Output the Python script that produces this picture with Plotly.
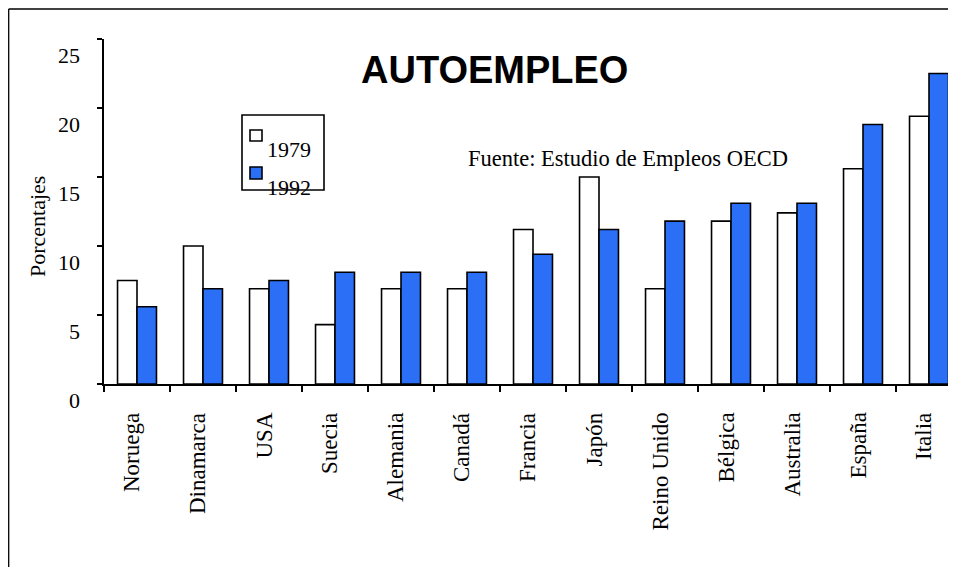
import plotly.graph_objects as go

categories = ["Noruega", "Dinamarca", "USA", "Suecia", "Alemania", "Canadá", "Francia",
              "Japón", "Reino Unido", "Bélgica", "Australia", "España", "Italia"]
v1979 = [7.5, 10.0, 6.9, 4.3, 6.9, 6.9, 11.2, 15.0, 6.9, 11.8, 12.4, 15.6, 19.4]
v1992 = [5.6, 6.9, 7.5, 8.1, 8.1, 8.1, 9.4, 11.2, 11.8, 13.1, 13.1, 18.8, 22.5]
ytick_vals = [0, 5, 10, 15, 20, 25]
ytick_text = ["0", "5", "10", "15", "20", "25"]
series_names = ["1979", "1992"]

# page body margin offset (screen px -> figure px)
OFF = 8
SW, SH = 956, 567
W, H = SW - OFF, SH - OFF
ML, MR, MT = 104 - OFF, 0, 39 - OFF
MB = H - (384 - OFF)
PW = W - ML - MR
PH = H - MT - MB


def px_x(p):
    # p: screen x position
    return (p - OFF - ML) / PW


def px_y(p):
    # p: screen y position
    return (H - MB - (p - OFF)) / PH


BLUE = "#2B6FF7"
SERIF = "Liberation Serif, Times New Roman, serif"
SANS = "Liberation Sans, Arial, sans-serif"

fig = go.Figure()
fig.add_trace(go.Bar(x=categories, y=v1979, name=series_names[0],
                     marker=dict(color="white", line=dict(color="black", width=1.6))))
fig.add_trace(go.Bar(x=categories, y=v1992, name=series_names[1],
                     marker=dict(color=BLUE, line=dict(color="black", width=1.6))))

n = len(categories)
xr = [-0.5, -0.5 + PW / 66.0]

fig.update_layout(
    width=W, height=H,
    margin=dict(l=ML, r=MR, t=MT, b=MB, pad=0),
    paper_bgcolor="white", plot_bgcolor="white",
    showlegend=False,
    barmode="group", bargap=0.41, bargroupgap=0,
    font=dict(family=SERIF, size=22, color="black"),
    xaxis=dict(type="category", range=xr, tickson="boundaries",
               ticks="outside", ticklen=6, tickwidth=1.5, tickcolor="black",
               showline=True, linewidth=2, linecolor="black",
               showgrid=False, zeroline=False, showticklabels=False),
    yaxis=dict(range=[0, 25], tickvals=ytick_vals, showticklabels=False,
               ticks="outside", ticklen=5, tickwidth=1.5, tickcolor="black",
               showline=True, linewidth=2, linecolor="black",
               showgrid=False, zeroline=False),
    xaxis2=dict(overlaying="x", anchor="y", range=xr,
                tickvals=[i - 0.5 for i in range(n + 1)],
                ticks="inside", ticklen=5, tickwidth=1.5, tickcolor="black",
                showticklabels=False, showline=False, showgrid=False, zeroline=False),
    yaxis2=dict(overlaying="y", anchor="x", side="left", range=[0, 25],
                tickvals=ytick_vals,
                ticks="inside", ticklen=6, tickwidth=1.5, tickcolor="black",
                showticklabels=False, showline=False, showgrid=False, zeroline=False),
)

annotations = []
# category labels (rotated), ends aligned below the axis
for c in categories:
    annotations.append(dict(text=c, xref="x", x=c, yref="paper", y=0,
                            xanchor="center", yanchor="top", textangle=-90,
                            xshift=-5.5, yshift=-27, showarrow=False,
                            font=dict(family=SERIF, size=23)))
for v, t in zip(ytick_vals, ytick_text):
    annotations.append(dict(text=t, xref="paper", yref="y", x=0, y=v,
                            xanchor="right", yanchor="middle", xshift=-22, yshift=-16,
                            showarrow=False, font=dict(family=SERIF, size=22)))
annotations.append(dict(text="Porcentajes", xref="paper", yref="paper",
                        x=px_x(37), y=px_y(227), textangle=-90,
                        xanchor="center", yanchor="middle", showarrow=False,
                        font=dict(family=SERIF, size=22)))
annotations.append(dict(text="<b>AUTOEMPLEO</b>", xref="paper", yref="paper",
                        x=px_x(494), y=px_y(70), xanchor="center", yanchor="middle",
                        showarrow=False, font=dict(family=SANS, size=38)))
annotations.append(dict(text="Fuente: Estudio de Empleos OECD", xref="paper", yref="paper",
                        x=px_x(466), y=px_y(158), xanchor="left", yanchor="middle",
                        showarrow=False, font=dict(family=SERIF, size=22.5)))
annotations.append(dict(text=series_names[0], xref="paper", yref="paper",
                        x=px_x(265), y=px_y(149), xanchor="left", yanchor="middle",
                        showarrow=False, font=dict(family=SERIF, size=22)))
annotations.append(dict(text=series_names[1], xref="paper", yref="paper",
                        x=px_x(265), y=px_y(187), xanchor="left", yanchor="middle",
                        showarrow=False, font=dict(family=SERIF, size=22)))

shapes = [
    # outer frame (left and top edges)
    dict(type="line", xref="paper", yref="paper", x0=px_x(8.7), x1=px_x(8.7),
         y0=px_y(9), y1=px_y(SH), line=dict(color="black", width=1.3)),
    dict(type="line", xref="paper", yref="paper", x0=px_x(8.7), x1=px_x(SW),
         y0=px_y(9), y1=px_y(9), line=dict(color="black", width=1.3)),
    # legend box
    dict(type="rect", xref="paper", yref="paper", x0=px_x(242), x1=px_x(324),
         y0=px_y(190), y1=px_y(115), line=dict(color="black", width=1.6),
         fillcolor="white", layer="below"),
    dict(type="rect", xref="paper", yref="paper", x0=px_x(250), x1=px_x(262),
         y0=px_y(141), y1=px_y(130), line=dict(color="black", width=1.6),
         fillcolor="white"),
    dict(type="rect", xref="paper", yref="paper", x0=px_x(250), x1=px_x(262),
         y0=px_y(179), y1=px_y(167), line=dict(color="black", width=1.6),
         fillcolor=BLUE),
]

fig.update_layout(annotations=annotations, shapes=shapes)
fig.write_html(
    "out.html",
    post_script="document.documentElement.style.overflow='hidden';"
                "document.body.style.overflow='hidden';",
)
